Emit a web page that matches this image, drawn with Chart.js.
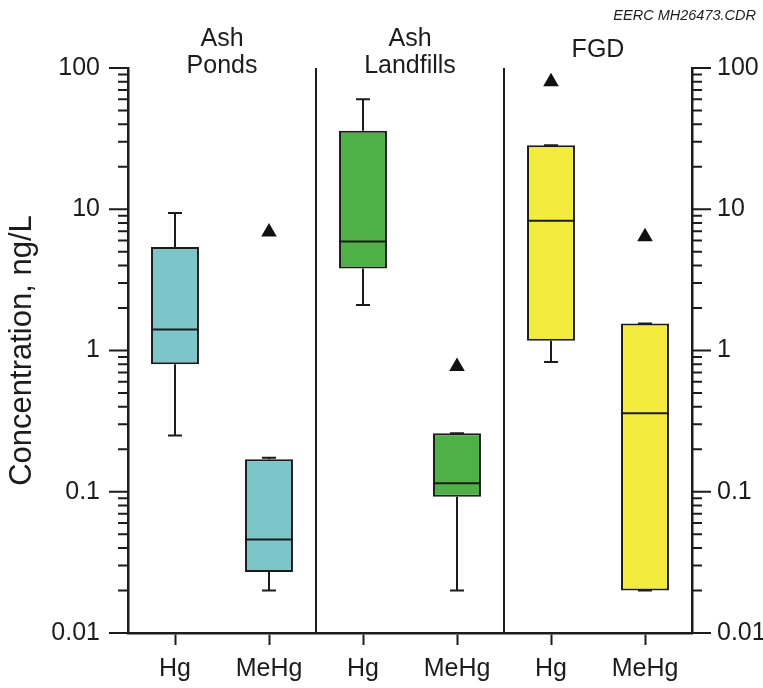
<!DOCTYPE html>
<html>
<head>
<meta charset="utf-8">
<script src="https://cdn.jsdelivr.net/npm/chart.js@4.4.1/dist/chart.umd.min.js"></script>
<style>
  html, body { margin: 0; padding: 0; background: #fff; }
  #wrap { width: 763px; height: 688px; position: relative; }
</style>
</head>
<body>
<div id="wrap"><canvas id="boxChart"></canvas></div>
<script>
// categorias e valores (ng/L)
const categories = ['Hg', 'MeHg', 'Hg', 'MeHg', 'Hg', 'MeHg'];
const groupNames = [['Ash', 'Ponds'], ['Ash', 'Landfills'], ['FGD']];
const whiskerLow = [0.25, 0.020, 2.1, 0.020, 0.83, 0.020];
const boxLow = [0.80, 0.027, 3.8, 0.092, 1.17, 0.020];
const medians = [1.41, 0.046, 5.9, 0.115, 8.3, 0.36];
const boxHigh = [5.4, 0.170, 36, 0.26, 28.4, 1.55];
const whiskerHigh = [9.4, 0.174, 60, 0.26, 28.4, 1.55];
const outliers = [null, 6.9, null, 0.77, 80, 6.4];
const yTickLabels = ['0.01', '0.1', '1', '10', '100'];
const minorSteps = [2, 3, 4, 5, 6, 7, 8, 9];

const boxColors = ['#7cc5c9', '#7cc5c9', '#4eb047', '#4eb047', '#f3ec3f', '#f3ec3f'];
const ink = '#1c1c1c';
const fontFamily = "'Liberation Sans', Arial, sans-serif";

// valores das marcas do eixo y
const decades = yTickLabels.map(Number);
const minorTicks = [];
decades.slice(0, -1).forEach(d => minorSteps.forEach(m => minorTicks.push(d * m)));

function setDecadeTicks(scale) {
    scale.ticks = decades.map(v => ({ value: v }));
}
function decadeLabel(value) {
    const idx = decades.indexOf(value);
    return idx >= 0 ? yTickLabels[idx] : '';
}

// ____________________________________________________________________________

// plugin: bigodes, medianas, marcas do eixo log, divisórias e textos
const boxExtras = {
    id: 'boxExtras',
    afterDatasetsDraw(chart) {
        const { ctx, chartArea, scales: { x, y } } = chart;
        const meta = chart.getDatasetMeta(0);
        ctx.save();
        ctx.strokeStyle = ink;
        ctx.lineWidth = 2;
        ctx.lineCap = 'butt';
        categories.forEach((c, i) => {
            const cx = x.getPixelForValue(i);
            const half = meta.data[i].width / 2;
            const capHalf = 7;
            const yHigh = y.getPixelForValue(whiskerHigh[i]);
            const yLow = y.getPixelForValue(whiskerLow[i]);
            const yQ3 = y.getPixelForValue(boxHigh[i]);
            const yQ1 = y.getPixelForValue(boxLow[i]);
            const yMed = y.getPixelForValue(medians[i]);

            ctx.beginPath();
            // bigode superior
            ctx.moveTo(cx, yQ3); ctx.lineTo(cx, yHigh);
            ctx.moveTo(cx - capHalf, yHigh); ctx.lineTo(cx + capHalf, yHigh);
            // bigode inferior
            ctx.moveTo(cx, yQ1); ctx.lineTo(cx, yLow);
            ctx.moveTo(cx - capHalf, yLow); ctx.lineTo(cx + capHalf, yLow);
            ctx.stroke();

            // mediana
            ctx.beginPath();
            ctx.moveTo(cx - half, yMed); ctx.lineTo(cx + half, yMed);
            ctx.stroke();
        });

        // divisórias entre os grupos
        ctx.lineWidth = 2;
        [1.5, 3.5].forEach(v => {
            const px = x.getPixelForValue(v);
            ctx.beginPath();
            ctx.moveTo(px, chartArea.top);
            ctx.lineTo(px, chartArea.bottom);
            ctx.stroke();
        });
        ctx.restore();
    },
    afterDraw(chart) {
        const { ctx, chartArea, scales: { x, y, y2 } } = chart;
        ctx.save();
        ctx.strokeStyle = ink;
        ctx.lineWidth = 2;

        // marcas do eixo esquerdo e direito
        const drawTicks = (scale, axisX, dir) => {
            ctx.beginPath();
            decades.forEach(v => {
                const py = scale.getPixelForValue(v);
                ctx.moveTo(axisX, py); ctx.lineTo(axisX + dir * 19, py);
            });
            minorTicks.forEach(v => {
                const py = scale.getPixelForValue(v);
                ctx.moveTo(axisX, py); ctx.lineTo(axisX + dir * 10, py);
            });
            ctx.stroke();
        };
        drawTicks(y, chartArea.left, -1);
        drawTicks(y2, chartArea.right, 1);

        // nomes dos grupos
        ctx.fillStyle = ink;
        ctx.textAlign = 'center';
        ctx.textBaseline = 'middle';
        ctx.font = `25px ${fontFamily}`;
        groupNames.forEach((lines, g) => {
            const px = x.getPixelForValue(g * 2 + 0.5);
            if (lines.length === 1) {
                ctx.fillText(lines[0], px, 50);
            } else {
                ctx.fillText(lines[0], px, 39);
                ctx.fillText(lines[1], px, 66);
            }
        });

        // código do desenho no canto
        ctx.textAlign = 'right';
        ctx.font = `italic 14.5px ${fontFamily}`;
        ctx.fillText('EERC MH26473.CDR', 756, 16);
        ctx.restore();
    }
};

// ____________________________________________________________________________

const boxCtx = document.getElementById('boxChart').getContext('2d');

new Chart(boxCtx, {
    type: 'bar',
    data: {
        labels: categories,
        datasets: [
            {
                label: 'Caixa',
                data: categories.map((c, i) => [boxLow[i], boxHigh[i]]),
                backgroundColor: boxColors,
                borderColor: ink,
                borderWidth: 2,
                borderSkipped: false,
                barPercentage: 0.51,
                categoryPercentage: 1,
                order: 2,
            },
            {
                type: 'line',
                label: 'Outliers',
                data: outliers,
                showLine: false,
                pointStyle: 'triangle',
                pointRadius: 9,
                pointBackgroundColor: '#111',
                pointBorderWidth: 0,
                order: 1,
            },
        ],
    },
    options: {
        responsive: true,
        maintainAspectRatio: false,
        animation: false,
        layout: { padding: { top: 68, left: 0, right: 0, bottom: 0 } },
        plugins: {
            legend: { display: false },
            tooltip: { enabled: false },
        },
        scales: {
            x: {
                grid: {
                    display: true, drawOnChartArea: false, drawTicks: true,
                    tickLength: 12, offset: false, tickColor: ink, tickWidth: 2,
                },
                border: { display: true, color: ink, width: 2.5 },
                ticks: { color: ink, font: { family: fontFamily, size: 25 }, padding: 9 },
                afterFit(scale) { scale.height = 55; },
            },
            y: {
                type: 'logarithmic',
                position: 'left',
                min: 0.01,
                max: 100,
                grid: { display: false, drawTicks: false },
                border: { display: true, color: ink, width: 2.5 },
                afterBuildTicks: setDecadeTicks,
                ticks: {
                    color: ink, padding: 28, autoSkip: false,
                    font: { family: fontFamily, size: 25 },
                    callback: decadeLabel,
                },
                title: {
                    display: true,
                    text: 'Concentration, ng/L',
                    color: ink,
                    font: { family: fontFamily, size: 31 },
                    padding: { top: 4, bottom: 0 },
                },
                afterFit(scale) { scale.width = 128; },
            },
            y2: {
                type: 'logarithmic',
                position: 'right',
                min: 0.01,
                max: 100,
                grid: { display: false, drawTicks: false },
                border: { display: true, color: ink, width: 2.5 },
                afterBuildTicks: setDecadeTicks,
                ticks: {
                    color: ink, padding: 25, autoSkip: false,
                    font: { family: fontFamily, size: 25 },
                    callback: decadeLabel,
                },
                afterFit(scale) { scale.width = 71; },
            },
        },
    },
    plugins: [boxExtras],
});
</script>
</body>
</html>
